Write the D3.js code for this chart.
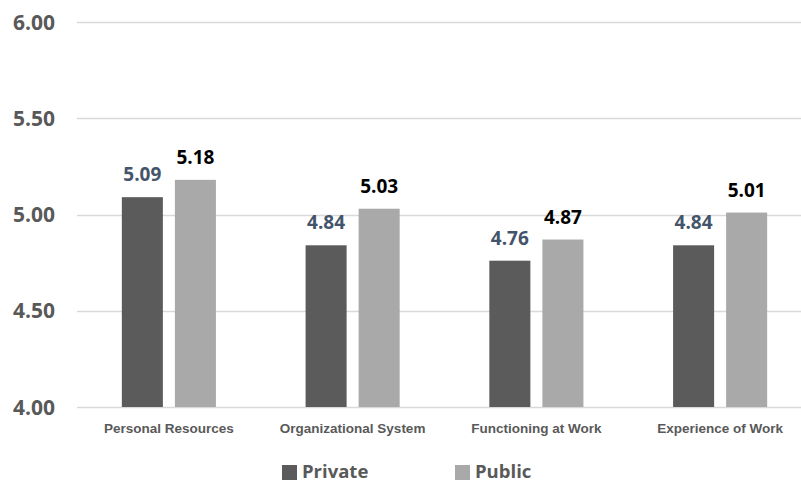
<!DOCTYPE html>
<html>
<head>
<meta charset="utf-8">
<script src="https://cdn.jsdelivr.net/npm/d3@7"></script>
<style>
  html, body { margin: 0; padding: 0; background: #fff; }
  svg { display: block; }
</style>
</head>
<body>
<svg id="chart" width="801" height="484"></svg>
<script>
const categories = ["Personal Resources", "Organizational System", "Functioning at Work", "Experience of Work"];
const seriesNames = ["Private", "Public"];
const privateValues = [5.09, 4.84, 4.76, 4.84];
const publicValues = [5.18, 5.03, 4.87, 5.01];
const yTicks = [4.00, 4.50, 5.00, 5.50, 6.00];

const colors = { Private: "#5b5b5b", Public: "#a9a9a9" };
const labelColors = { Private: "#44546a", Public: "#000000" };

const data = categories.map((c, i) => ({
  category: c,
  values: [
    { series: "Private", value: privateValues[i] },
    { series: "Public", value: publicValues[i] }
  ]
}));

const svg = d3.select("#chart");
const W = 801;

const y = d3.scaleLinear().domain([4, 6]).range([407, 22]);
const x0 = d3.scaleBand().domain(categories).range([77, 812]).paddingInner(0.488).paddingOuter(0.244);
const x1 = d3.scaleBand().domain(seriesNames).range([0, x0.bandwidth()]).paddingInner(12 / 53);

// gridlines
svg.append("g").selectAll("line").data(yTicks).join("line")
  .attr("x1", 77).attr("x2", W)
  .attr("y1", d => Math.round(y(d)) + 0.5).attr("y2", d => Math.round(y(d)) + 0.5)
  .attr("stroke", "#d9d9d9").attr("stroke-width", 1.3);

// y labels
svg.append("g").selectAll("text").data(yTicks).join("text")
  .attr("x", 55).attr("y", d => y(d))
  .attr("dy", "0.36em")
  .attr("text-anchor", "end")
  .attr("font-family", "'Open Sans', 'Liberation Sans', sans-serif")
  .attr("font-weight", "bold")
  .attr("font-size", 21)
  .attr("fill", "#595959")
  .text(d => d3.format(".2f")(d));

// bars
const groups = svg.append("g").selectAll("g").data(data).join("g")
  .attr("transform", d => `translate(${x0(d.category)},0)`);

groups.selectAll("rect").data(d => d.values).join("rect")
  .attr("x", d => x1(d.series))
  .attr("width", x1.bandwidth())
  .attr("y", d => y(d.value))
  .attr("height", d => y(4) - y(d.value))
  .attr("fill", d => colors[d.series]);

groups.selectAll("text").data(d => d.values).join("text")
  .attr("x", d => x1(d.series) + x1.bandwidth() / 2)
  .attr("y", d => y(d.value) - 16)
  .attr("text-anchor", "middle")
  .attr("font-family", "'Open Sans', 'Liberation Sans', sans-serif")
  .attr("font-weight", "bold")
  .attr("font-size", 19)
  .attr("fill", d => labelColors[d.series])
  .text(d => d3.format(".2f")(d.value));

// category labels
svg.append("g").selectAll("text").data(categories).join("text")
  .attr("x", d => x0(d) + x0.bandwidth() / 2)
  .attr("y", 433)
  .attr("text-anchor", "middle")
  .attr("font-family", "'Liberation Sans Narrow', 'Liberation Sans', Arial, sans-serif")
  .attr("font-weight", "bold")
  .attr("font-size", 13.5)
  .attr("fill", "#595959")
  .text(d => d);

// legend
const legendItems = [{ name: "Private", x: 282 }, { name: "Public", x: 455 }];
const lg = svg.append("g").selectAll("g").data(legendItems).join("g")
  .attr("transform", d => `translate(${d.x},0)`);
lg.append("rect").attr("x", 0).attr("y", 465).attr("width", 15).attr("height", 15)
  .attr("fill", d => colors[d.name]);
lg.append("text").attr("x", 20).attr("y", 478)
  .attr("font-family", "'Open Sans', 'Liberation Sans', sans-serif")
  .attr("font-weight", "bold")
  .attr("font-size", 18.5)
  .attr("fill", "#595959")
  .text(d => d.name);
</script>
</body>
</html>
